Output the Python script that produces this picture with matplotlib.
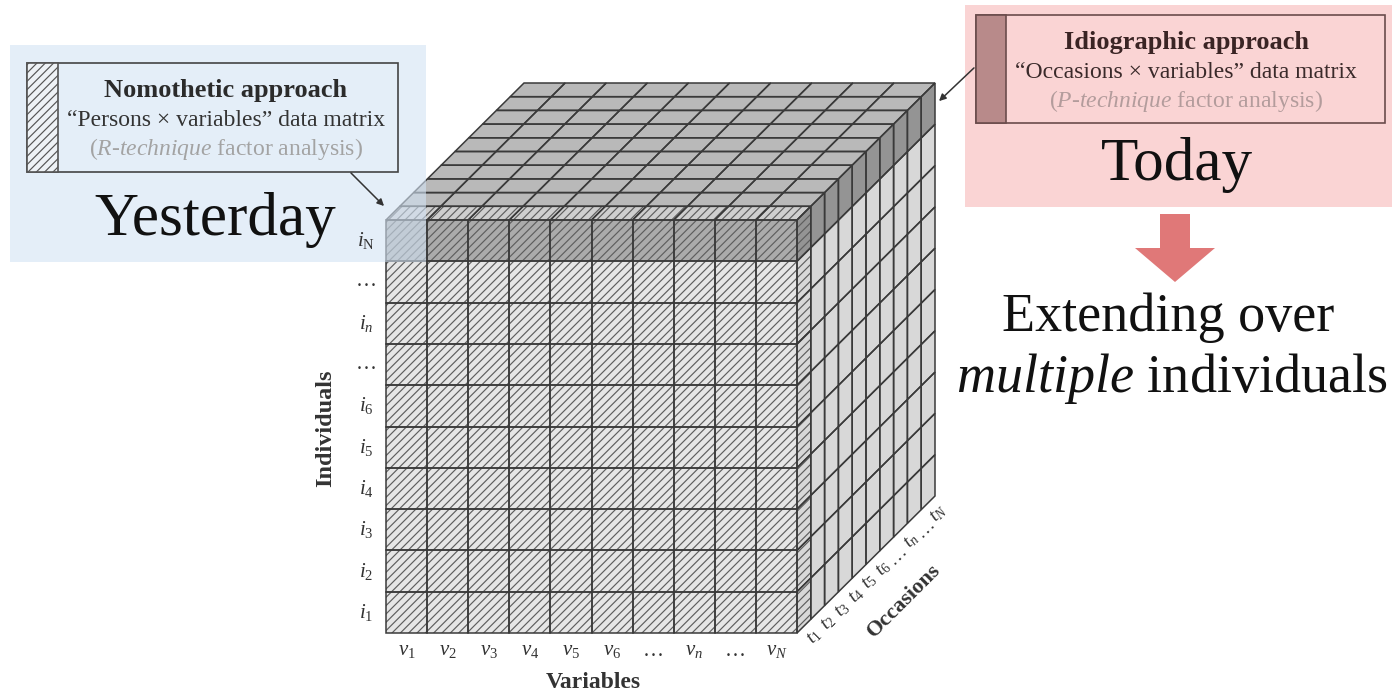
import numpy as np
import matplotlib.pyplot as plt
import matplotlib.patches as mpatches

# ------------------------------
# Labels (the "data" of this diagram)
# ------------------------------
row_labels = ["$i_\\mathrm{N}$", "…", "$i_n$", "…", "$i_6$", "$i_5$", "$i_4$", "$i_3$", "$i_2$", "$i_1$"]
col_labels = ["$v_1$", "$v_2$", "$v_3$", "$v_4$", "$v_5$", "$v_6$", "…", "$v_n$", "…", "$v_N$"]
occ_labels = ["$t_1$", "$t_2$", "$t_3$", "$t_4$", "$t_5$", "$t_6$", "…", "$t_n$", "…", "$t_N$"]

n_rows = len(row_labels)
n_cols = len(col_labels)
n_occ = len(occ_labels)

# ------------------------------
# Geometry (pixel space, y downwards)
# ------------------------------
X0, Y0 = 386, 220      # front face top-left
W, H = 411, 413        # front face size
cw = W / n_cols
rh = H / n_rows
ddx, ddy = 13.8, -13.7  # one occasion layer in depth

plt.rcParams['mathtext.fontset'] = 'custom'
plt.rcParams['mathtext.rm'] = 'Liberation Serif'
plt.rcParams['mathtext.it'] = 'Liberation Serif:italic'
plt.rcParams['mathtext.bf'] = 'Liberation Serif:bold'
plt.rcParams['hatch.linewidth'] = 0.85
serif = 'Liberation Serif'

fig = plt.figure(figsize=(13.99, 6.95), dpi=100)
ax = fig.add_axes([0, 0, 1, 1])
ax.set_xlim(0, 1399)
ax.set_ylim(695, 0)
ax.axis('off')

edge = '#3a3a3a'
hatch_col = '#5e5e5e'


def cell(pts, face, hatched, z=2):
    if hatched:
        ax.add_patch(mpatches.Polygon(pts, closed=True, facecolor=face, edgecolor=hatch_col,
                                      hatch='////', lw=0, zorder=z))
    else:
        ax.add_patch(mpatches.Polygon(pts, closed=True, facecolor=face, lw=0, zorder=z))
    ax.add_patch(mpatches.Polygon(pts, closed=True, fill=False, edgecolor=edge, lw=1.1, zorder=z + 0.5))


# top face
for d in range(n_occ):
    for c in range(n_cols):
        p = lambda cc, dd: (X0 + cc * cw + dd * ddx, Y0 + dd * ddy)
        pts = [p(c, d), p(c + 1, d), p(c + 1, d + 1), p(c, d + 1)]
        cell(pts, '#cfcfcf' if d == 0 else '#b9b9b9', d == 0)

# right face
for d in range(n_occ):
    for r in range(n_rows):
        q = lambda dd, rr: (X0 + W + dd * ddx, Y0 + rr * rh + dd * ddy)
        pts = [q(d, r), q(d + 1, r), q(d + 1, r + 1), q(d, r + 1)]
        face = '#949494' if r == 0 else '#d8d8d8'
        cell(pts, face, d == 0)

# front face
for r in range(n_rows):
    for c in range(n_cols):
        x = X0 + c * cw
        y = Y0 + r * rh
        pts = [(x, y), (x + cw, y), (x + cw, y + rh), (x, y + rh)]
        cell(pts, '#ababab' if r == 0 else '#e6e6e6', True)

# row / column / occasion labels
for r, lab in enumerate(row_labels):
    ax.text(X0 - 20, Y0 + (r + 0.5) * rh, lab, fontsize=15, family=serif,
            ha='center', va='center', color='#333333', zorder=6)
for c, lab in enumerate(col_labels):
    ax.text(X0 + (c + 0.5) * cw, Y0 + H + 18, lab, fontsize=15, family=serif,
            ha='center', va='center', color='#333333')
for d, lab in enumerate(occ_labels):
    ax.text(X0 + W + (d + 0.5) * ddx + 11, Y0 + H + (d + 0.5) * ddy + 11, lab, fontsize=14,
            family=serif, ha='center', va='center', rotation=45, color='#333333')

ax.text(326, 428, "Individuals", rotation=90, fontsize=17.5, fontweight='bold', family=serif,
        ha='center', va='center', color='#333333')
ax.text(593, 683, "Variables", fontsize=17, fontweight='bold', family=serif,
        ha='center', va='center', color='#333333')
ax.text(904, 601, "Occasions", rotation=45, fontsize=16, fontweight='bold', family=serif,
        ha='center', va='center', color='#333333')

# ------------------------------
# Nomothetic box (left)
# ------------------------------
ax.add_patch(mpatches.Rectangle((10, 45), 416, 217, facecolor='#d3e3f4', alpha=0.6, lw=0, zorder=4))
ax.add_patch(mpatches.Rectangle((27, 63), 371, 109, fill=False, edgecolor='#444444', lw=1.2, zorder=5))
ax.add_patch(mpatches.Rectangle((27, 63), 31, 109, facecolor='#eef2f6', edgecolor='#555555',
                                hatch='////', lw=1.2, zorder=5))
ax.text(226, 91, "Nomothetic approach", fontsize=19, fontweight='bold', family=serif,
        ha='center', va='center', color='#2b2b2b', zorder=6)
ax.text(226, 121, "“Persons × variables” data matrix", fontsize=17, family=serif,
        ha='center', va='center', color='#333333', zorder=6)
ax.text(226, 149, "($\\mathit{R}$-$\\mathit{technique}$ factor analysis)", fontsize=17,
        family=serif, ha='center', va='center', color='#a3a3a3', zorder=6)
ax.text(215, 220, "Yesterday", fontsize=44, family=serif, ha='center', va='center',
        color='#111111', zorder=6)
ax.annotate("", xy=(386, 208), xytext=(349, 171),
            arrowprops=dict(arrowstyle='-|>', color='#333333', lw=1.1, mutation_scale=10), zorder=6)

# ------------------------------
# Idiographic box (right)
# ------------------------------
ax.add_patch(mpatches.Rectangle((965, 5), 427, 202, facecolor='#fad4d4', lw=0, zorder=4))
ax.add_patch(mpatches.Rectangle((976, 15), 409, 108, fill=False, edgecolor='#6a4c4c', lw=1.2, zorder=5))
ax.add_patch(mpatches.Rectangle((976, 15), 30, 108, facecolor='#b88a8a', edgecolor='#6a4c4c',
                                lw=1.2, zorder=5))
ax.text(1186, 43, "Idiographic approach", fontsize=19, fontweight='bold', family=serif,
        ha='center', va='center', color='#3a2424', zorder=6)
ax.text(1186, 73, "“Occasions × variables” data matrix", fontsize=17, family=serif,
        ha='center', va='center', color='#3a2a2a', zorder=6)
ax.text(1186, 101, "($\\mathit{P}$-$\\mathit{technique}$ factor analysis)", fontsize=17,
        family=serif, ha='center', va='center', color='#b39c9c', zorder=6)
ax.text(1177, 165, "Today", fontsize=44, family=serif, ha='center', va='center',
        color='#111111', zorder=6)
ax.annotate("", xy=(937, 103), xytext=(976, 66),
            arrowprops=dict(arrowstyle='-|>', color='#333333', lw=1.1, mutation_scale=10), zorder=6)

# block arrow down
ax.add_patch(mpatches.FancyArrow(1175, 214, 0, 68, width=30, head_width=80, head_length=34,
                                 length_includes_head=True, facecolor='#e07878', lw=0, zorder=5))

ax.text(1168, 318, "Extending over", fontsize=39, family=serif, ha='center', va='center',
        color='#111111')
ax.text(1172, 378, "$\\mathit{multiple}$ individuals", fontsize=39, family=serif,
        ha='center', va='center', color='#111111')

plt.savefig("out.png", dpi=100)
